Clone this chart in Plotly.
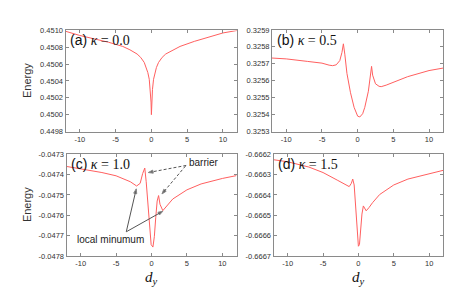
import plotly.graph_objects as go

W, H = 464, 295

# ---------------- data ----------------
xa = [-12, -10, -8, -6, -4, -3, -2, -1.5, -1, -0.7, -0.5, -0.3, -0.15, -0.05, 0,
      0.05, 0.15, 0.3, 0.5, 0.7, 1, 1.5, 2, 3, 4, 6, 8, 10, 12]
ya = [0.45099, 0.45094, 0.45090, 0.45086, 0.45081, 0.45077, 0.45072, 0.45068, 0.45062,
      0.45056, 0.45050, 0.45042, 0.45030, 0.45015, 0.45000,
      0.45015, 0.45030, 0.45042, 0.45050, 0.45056, 0.45062, 0.45068, 0.45072, 0.45077,
      0.45081, 0.45087, 0.45092, 0.45097, 0.45100]

xb = [-12, -10, -7, -5, -4, -3.5, -3, -2.5, -2.2, -2, -1.8, -1.5, -1, -0.5, 0, 0.3, 0.7,
      1, 1.5, 1.8, 1.95, 2.1, 2.5, 3, 3.3, 4, 5, 7, 10, 12]
yb = [0.325734, 0.325729, 0.325714, 0.325704, 0.325692, 0.325689, 0.325694, 0.325719,
      0.325767, 0.325818, 0.325757, 0.325643, 0.325529, 0.325443, 0.325391, 0.325386,
      0.325405, 0.325443, 0.325538, 0.325633, 0.325685, 0.325633, 0.325582, 0.325567,
      0.325565, 0.325574, 0.325590, 0.325624, 0.325660, 0.325675]

xc = [-12, -10, -7, -5, -3, -2.1, -1.6, -1.25, -0.95, -0.75, -0.45, -0.25, -0.05, 0.2, 0.4,
      0.6, 0.8, 1.0, 1.2, 1.6, 2.2, 3, 5, 7, 10, 12]
yc = [-0.047360, -0.047371, -0.047390, -0.047406, -0.047435, -0.047456, -0.047443,
      -0.047395, -0.047368, -0.047435, -0.047562, -0.047673, -0.047744, -0.047756,
      -0.047705, -0.047610, -0.047530, -0.047503, -0.047546, -0.047577, -0.047554,
      -0.047520, -0.047475, -0.047446, -0.047419, -0.047405]

xd = [-12, -10, -7, -5, -3, -2, -1.3, -1, -0.8, -0.6, -0.4, -0.2, 0, 0.15, 0.3, 0.5,
      0.7, 0.9, 1.1, 1.5, 2, 3, 5, 7, 10, 12]
yd = [-0.666227, -0.666237, -0.666263, -0.666290, -0.666327, -0.666348, -0.666359,
      -0.666343, -0.666322, -0.666351, -0.666462, -0.666573, -0.666652, -0.666644,
      -0.666573, -0.666494, -0.666454, -0.666470, -0.666478, -0.666462, -0.666438,
      -0.666398, -0.666351, -0.666322, -0.666295, -0.666279]

x_ticks = [-10, -5, 0, 5, 10]
x_tick_text = ["-10", "-5", "0", "5", "10"]

ya_ticks = [0.4498, 0.4500, 0.4502, 0.4504, 0.4506, 0.4508, 0.4510]
yb_ticks = [0.3253, 0.3254, 0.3255, 0.3256, 0.3257, 0.3258, 0.3259]
yc_ticks = [-0.0478, -0.0477, -0.0476, -0.0475, -0.0474, -0.0473]
yd_ticks = [-0.6667, -0.6666, -0.6665, -0.6664, -0.6663, -0.6662]

panel_labels = ["(a)", "(b)", "(c)", "(d)"]
kappas = ["0.0", "0.5", "1.0", "1.5"]

# annotation anchor points in panel (c) data units
barrier_text = (5.0, -0.047339)
barrier_from = [(4.9, -0.047355), (4.8, -0.047358)]
barrier_to = [(-0.45, -0.047390), (1.48, -0.047495)]
localmin_text = (-10.76, -0.047717)
localmin_from = (-3.56, -0.047681)
localmin_to = [(-2.15, -0.047470), (1.6, -0.047580)]

# ---------------- layout helpers ----------------
def px_dom_x(l, r):
    return [l / W, r / W]

def px_dom_y(t, b):
    return [1 - b / H, 1 - t / H]

panels = [
    dict(x=px_dom_x(57.5, 229.3), y=px_dom_y(19.0, 123.3), yr=[0.4498, 0.4510], yt=ya_ticks, xs=xa, ys=ya),
    dict(x=px_dom_x(264.0, 435.3), y=px_dom_y(18.5, 123.3), yr=[0.3253, 0.3259], yt=yb_ticks, xs=xb, ys=yb),
    dict(x=px_dom_x(58.5, 228.5), y=px_dom_y(146.7, 251.7), yr=[-0.0478, -0.0473], yt=yc_ticks, xs=xc, ys=yc),
    dict(x=px_dom_x(265.5, 435.3), y=px_dom_y(146.7, 251.7), yr=[-0.6667, -0.6662], yt=yd_ticks, xs=xd, ys=yd),
]

SANS = "Liberation Sans, Arial, sans-serif"
SERIF = "Liberation Serif, DejaVu Serif, serif"
AX_COL = "#8a8a8a"
TXT_COL = "#333333"

fig = go.Figure()
layout = dict(
    width=W, height=H, margin=dict(l=0, r=0, t=0, b=0),
    paper_bgcolor="white", plot_bgcolor="white", showlegend=False,
    font=dict(family=SANS, size=8, color=TXT_COL),
)
annotations = []

for i, p in enumerate(panels):
    n = "" if i == 0 else str(i + 1)
    xa_name, ya_name = "xaxis" + n, "yaxis" + n
    xr, yr_ = "x" + n, "y" + n
    fig.add_trace(go.Scatter(x=p["xs"], y=p["ys"], mode="lines",
                             line=dict(color="#ff5f5f", width=1),
                             xaxis=xr, yaxis=yr_, hoverinfo="skip"))
    common = dict(showline=True, linecolor=AX_COL, linewidth=1, mirror="ticks",
                  ticks="inside", ticklen=3, tickcolor=AX_COL, showgrid=False,
                  zeroline=False, tickfont=dict(family=SANS, size=7.5, color=TXT_COL))
    layout[xa_name] = dict(domain=p["x"], range=[-12, 12], anchor=yr_,
                           tickvals=x_ticks, ticktext=x_tick_text, **common)
    layout[ya_name] = dict(domain=p["y"], range=p["yr"], anchor=xr,
                           tickvals=p["yt"], ticktext=["%.4f" % v for v in p["yt"]], **common)
    annotations.append(dict(
        xref=xr + " domain", yref=yr_ + " domain", x=0.015, y=1.0,
        xanchor="left", yanchor="top", showarrow=False,
        text=panel_labels[i] + "<span style=\"font-family:" + SERIF + "\"> <i>κ</i> = " + kappas[i] + "</span>",
        font=dict(family=SANS, size=14, color="#111111")))

# Energy labels
for yy in [(19 + 123.3) / 2, (146.7 + 251.7) / 2]:
    annotations.append(dict(xref="paper", yref="paper", x=19 / W, y=1 - yy / H,
                            xanchor="center", yanchor="middle",
                            text="Energy", textangle=-90, showarrow=False,
                            font=dict(family=SANS, size=11, color=TXT_COL)))
# d_y labels
for cx in [(58.5 + 228.5) / 2, (265.5 + 435.3) / 2]:
    annotations.append(dict(xref="paper", yref="paper", x=cx / W, y=1 - 274 / H,
                            xanchor="center", yanchor="middle",
                            text="<i>d</i><sub><i>y</i></sub>", showarrow=False,
                            font=dict(family=SERIF, size=15, color="#111111")))

# panel (c) annotations
annotations.append(dict(xref="x3", yref="y3", x=barrier_text[0], y=barrier_text[1],
                        xanchor="left", yanchor="middle", text="barrier", showarrow=False,
                        font=dict(family=SANS, size=10, color="#222222")))
annotations.append(dict(xref="x3", yref="y3", x=localmin_text[0], y=localmin_text[1],
                        xanchor="left", yanchor="middle", text="local minumum", showarrow=False,
                        font=dict(family=SANS, size=10, color="#222222")))

for f, t in zip(barrier_from, barrier_to):
    fig.add_trace(go.Scatter(x=[f[0], t[0]], y=[f[1], t[1]], mode="lines+markers",
                             line=dict(color="#555555", width=1, dash="3px,2px"),
                             marker=dict(symbol="arrow", size=[0, 5], angleref="previous",
                                         color="#222222"),
                             xaxis="x3", yaxis="y3", hoverinfo="skip"))
for t in localmin_to:
    fig.add_trace(go.Scatter(x=[localmin_from[0], t[0]], y=[localmin_from[1], t[1]],
                             mode="lines+markers",
                             line=dict(color="#555555", width=1),
                             marker=dict(symbol="arrow", size=[0, 5], angleref="previous",
                                         color="#222222"),
                             xaxis="x3", yaxis="y3", hoverinfo="skip"))

layout["annotations"] = annotations
fig.update_layout(**layout)
fig.write_html("out.html")
